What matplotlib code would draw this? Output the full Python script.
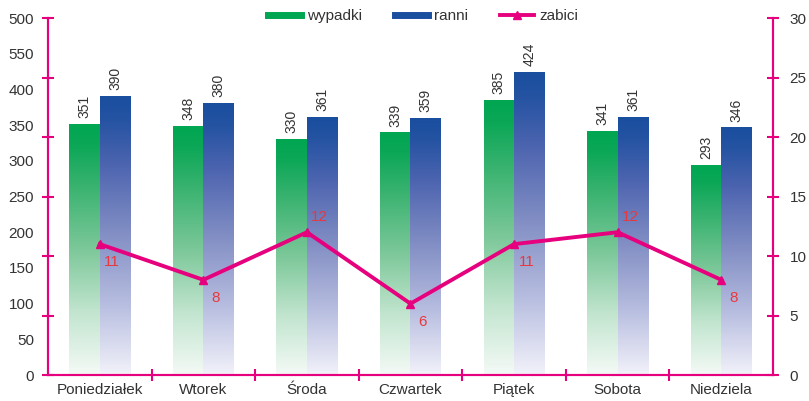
"""
Accidents per weekday: wypadki / ranni bars (gradient) with zabici line
on a secondary axis.
"""
import matplotlib
matplotlib.use("Agg")
import matplotlib.pyplot as plt
import numpy as np
from matplotlib.colors import LinearSegmentedColormap
from matplotlib.lines import Line2D

plt.rcParams["font.family"] = ["Liberation Sans", "DejaVu Sans"]

DAYS = ["Poniedziałek", "Wtorek", "Środa", "Czwartek", "Piątek", "Sobota", "Niedziela"]
WYPADKI = [351, 348, 330, 339, 385, 341, 293]
RANNI = [390, 380, 361, 359, 424, 361, 346]
ZABICI = [11, 8, 12, 6, 11, 12, 8]
LEFT_TICKS = [0, 50, 100, 150, 200, 250, 300, 350, 400, 450, 500]
LEFT_LABELS = ["0", "50", "100", "150", "200", "250", "300", "350", "400", "550", "500"]
RIGHT_TICKS = [0, 5, 10, 15, 20, 25, 30]

MAGENTA = "#E6007E"
TXT = "#333333"
FS = 11
# which line labels sit above their point (others go below)
LABEL_UP = [False, False, True, False, False, True, False]

green_cmap = LinearSegmentedColormap.from_list(
    "g", [(0, "#F4FAF6"), (0.25, "#C2E5CF"), (0.5, "#7DC89A"),
          (0.75, "#3AB370"), (0.92, "#0BA757"), (1, "#00A651")])
blue_cmap = LinearSegmentedColormap.from_list(
    "b", [(0, "#F2F2FA"), (0.25, "#B8BEE0"), (0.5, "#8490C5"),
          (0.75, "#4E65B0"), (0.92, "#2453A2"), (1, "#1A4E9F")])

fig = plt.figure(figsize=(8.09, 4.01), dpi=100)
ax = fig.add_axes([0.0593, 0.0648, 0.8962, 0.8902])
ax2 = ax.twinx()

x = np.arange(len(DAYS))
w = 0.295
grad = np.linspace(0, 1, 256).reshape(-1, 1)

for xi, g, r in zip(x, WYPADKI, RANNI):
    ax.imshow(grad, cmap=green_cmap, origin="lower", aspect="auto",
              extent=[xi - w, xi, 0, g], zorder=2)
    ax.imshow(grad, cmap=blue_cmap, origin="lower", aspect="auto",
              extent=[xi, xi + w, 0, r], zorder=2)
    ax.text(xi - w / 2, g + 9, str(g), rotation=90, ha="center", va="bottom",
            fontsize=10, color=TXT)
    ax.text(xi + w / 2, r + 9, str(r), rotation=90, ha="center", va="bottom",
            fontsize=10, color=TXT)

ax.set_xlim(-0.5, len(DAYS) - 0.5)
ax.set_ylim(0, 500)
ax.set_yticks(LEFT_TICKS)
ax.set_yticklabels(LEFT_LABELS)
ax.tick_params(axis="y", length=0, labelsize=FS, labelcolor=TXT, pad=10)

ax.set_xticks(x)
ax.set_xticklabels(DAYS)
ax.set_xticks(x[:-1] + 0.5, minor=True)
ax.tick_params(axis="x", which="major", length=0, labelsize=FS,
               labelcolor=TXT, pad=6)
ax.tick_params(axis="x", which="minor", length=8, direction="inout",
               color=MAGENTA, width=1.5)

# secondary axis: zabici line
ax2.plot(x, ZABICI, color=MAGENTA, lw=2.8, marker="^", ms=6, zorder=5)
for xi, z, up in zip(x, ZABICI, LABEL_UP):
    ax2.annotate(str(z), (xi, z), xytext=(9, 11 if up else -13),
                 textcoords="offset points", ha="center", va="center",
                 fontsize=FS, color="#E8383D")
ax2.set_ylim(0, 30)
ax2.set_yticks(RIGHT_TICKS)
ax2.yaxis.set_ticks_position("both")
ax2.tick_params(axis="y", length=8, direction="inout", color=MAGENTA,
                width=1.5, labelsize=FS, labelcolor=TXT, pad=8)
ax2.tick_params(axis="y", labelleft=False, labelright=True)

for a in (ax, ax2):
    a.spines["top"].set_visible(False)
    for s in ("left", "right", "bottom"):
        a.spines[s].set_color(MAGENTA)
        a.spines[s].set_linewidth(1.5)

handles = [
    Line2D([0], [0], color="#00A651", lw=5),
    Line2D([0], [0], color="#1A4E9F", lw=5),
    Line2D([0], [0], color=MAGENTA, lw=2.8, marker="^", ms=6),
]
fig.legend(handles, ["wypadki", "ranni", "zabici"], loc="center",
           bbox_to_anchor=(0.523, 0.96), ncol=3, frameon=False,
           fontsize=FS, handlelength=2.2, handletextpad=0.35,
           columnspacing=2.15, labelcolor=TXT)

fig.savefig("out.png", dpi=100, facecolor="white")
